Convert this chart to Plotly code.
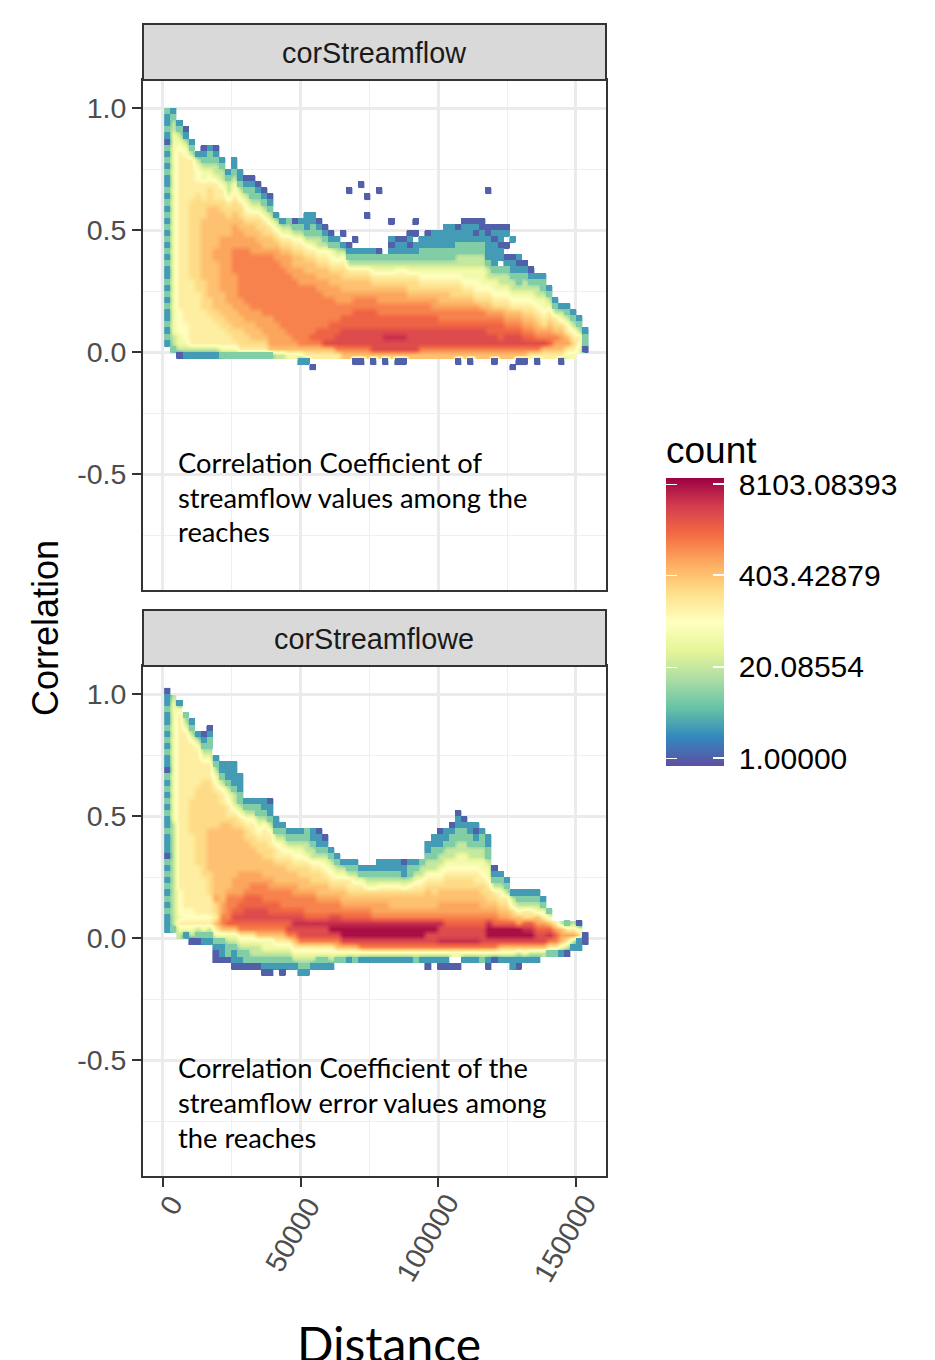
import numpy as np
import plotly.graph_objects as go

W, H = 935, 1360
# Each string is one distance bin, read bottom to top.
# A digit is ln(count), a letter is a half step (see HALF_STEPS), '.' is an empty cell.
HALF_STEPS = {"a": 4.5, "b": 5.5, "c": 6.5, "d": 7.5, "e": 8.5}
BIN_X = 2200
BIN_Y = 0.025
X_START = 500
Y_START_TOP = -0.075
Y_START_BOTTOM = -0.175

streamflow_columns = [
"....1 21211 21212 11212 12121 21212 11212 12012 112",
"...23 34444 44444 44444 44444 44444 44444 44443 321",
"..034 4aaaa 55555 55555 55555 55555 55555 5a432 1",
"..134 aaa55 55555 55555 55555 55555 55555 a4310",
"..135 55555 55555 bbbbb bbbbb bbb55 55555 321",
"..135 55555 555bb bbbbb bbbbb bbbb5 5aa43 1",
"..135 55555 bbbbb 66666 66666 bbb55 54432 10",
"..135 5555b bb666 66666 66666 66bbb 5a432 21",
"..135 555bb 66666 666cc 66666 66b55 54332 10",
"..245 55bb6 666cc ccccc cc666 6bb55 43321",
"..245 5bb66 6cccc ccccc cc666 bb543 321",
"..245 bb666 ccccc c7777 cccc6 6bb5a 43211",
"..25b bb66c cc777 77777 ccc66 bb543 211",
"..25b b66cc c7777 77777 cc66b 5a432 10",
"..25b 666cc 77777 7777c cc66b 54322 10",
"..25b 66ccc 77777 7777c c66bb 54321 0",
"..25b 6ccc7 77777 7777c 66bb5 43210",
"..26c cccc7 77777 7777c 66b54 3210",
"..36c ccc77 77777 777cc 6b543 1",
"..36c cc777 77777 77cc6 b5431",
"..46c c7777 77777 7ccc6 b5432",
"..46c 77777 77777 cc66b 5a320",
".1467 77777 7777c cc66b 5a321",
".1567 77777 7777c c66b5 a3211 1",
"0.567 d7777 7777c c66b5 43221 1",
"..567 dd777 777cc 66b5a 33210",
"..568 dd777 77ccc 66b5a 3210",
"..568 ddd77 77cc6 6b5a4 210",
"..578 8dd77 7ccc6 6b543 21",
"..678 88dd7 7cc66 bb5a3 1.0",
"..678 88dd7 7cc66 b5321 0",
".0678 88ddd 77c66 b5321 .0",
".0678 88ddd 77c66 b5321",
"..678 88ddd 77c66 b5321",
".0688 88ddd 77c6b 54321",
"..688 88dd7 7cc6b 54320",
".0688 e8dd7 7cc6b 5432.",
"..688 e8dd7 7cc6b 54321 01",
".0688 e8dd7 7cc6b 5a321 10",
".0688 e8dd7 7cc6b 5a321 10",
"..688 88dd7 7c6bb 54321 010",
"..688 88dd7 7c6bb 54321 1.0",
"..678 88dd7 7c6b5 a4322 11",
"..678 88dd7 7c6b5 a4322 110",
"..678 88dd7 cc6b5 a4322 111",
"..678 88d77 c66b5 a4322 111",
"..678 88d77 c66b5 a4322 1111",
"..678 88d77 c6bb5 a4322 1111",
".0678 88d77 c6bb5 a4332 2110",
"..678 88d77 c6b5a 44332 21110",
".0678 88d77 c6b5a 44332 21110",
"..678 88d77 cb5aa 44332 21010",
"..678 88d77 6b5a4 44332 21100",
"..678 8dd7c 6b5a4 33211 1100",
".0678 8dd7c b5a44 32111 1010",
"..678 ddd7c b5a43 32.11 0110",
"..678 8d7c6 b5a43 3210. 0.10",
"0.678 8d7c6 5a433 2110. .1",
".0678 8d7c6 5a432 2101",
".0678 d7c6b 5a433 210",
"..578 d7c6b 5a432 10",
".0578 7c6b5 a4332 1",
"..568 7cb5a 44322 1",
"..56d 7c6b5 4321",
"..56c 76b53 21",
".056c c6b43 1",
"..45c 65a32 1",
"..45b 5a321",
"...4a 5321",
"...02 21",
]

# Isolated single-count cells above the main cloud of the top panel: (distance bin, correlation bin)
streamflow_strays = [(30, 29), (32, 30), (33, 28), (33, 25), (35, 29), (37, 24),
                     (41, 24), (51, 24), (53, 29), (56, 23)]

streamflow_error_columns = [
"..... ...11 12121 21212 01112 11212 12120 11212 12112 110",
"..... ...23 33333 33333 33333 34444 44444 44444 44444 43",
"..... ..345 4aaaa 55555 55555 55555 55555 55555 55554 1",
"..... ..145 aa555 55555 55555 55555 55555 55555 5432",
"..... .0345 aa555 55555 5555b bbbbb 55555 5555a 321",
"..... .0235 a5555 5555b bbbbb bbbbb bb555 555a3 1",
"..... .1245 a5555 55bbb bbbbb bbbbb bbb55 54321 0",
"..... .1235 a555b bbb66 66666 bbbbb bbb55 54322 10",
"...00 12456 5bbc6 66666 66666 bbbbb b5a43 21",
"...01 12467 7cc66 66666 66666 6bbb5 5a321 1",
"...02 2346d 7777c 66666 66666 6b55a 43211 1",
"..011 2346d 8d77c cc666 66666 bb543 32111 1",
"..012 3457d 8dd7c ccc66 66666 b5432 2111",
"..022 3457d 88dd7 ccc66 666bb 5a321",
"..023 3457d 88dd7 7cc66 66bb5 5a321",
"..023 3467d 88dd7 7cc66 6bb5a 43221",
".0123 4467d 88d77 7c666 bbb55 a3211",
".0123 4467d 8dd77 cc666 bb55a 32110",
"..123 4567d 8dd77 c666b 55a32 11",
".0123 4567d 8d777 c666b 5a432 1",
"..123 4578d 8d777 c66bb 5a321",
"..134 5678e 8d77c c66b5 a4321",
".1234 5788e 8d77c 66bb5 a4321",
".1234 5788e d777c 66bb5 43322",
"..134 5788e d777c 6bb5a 33211",
"..124 5788e d77c6 6bb5a 32110",
"..124 5788e d77c6 6b5a4 3210",
"..134 5789e 877c6 b5a43 21",
"...24 6789e 877c6 b5432 1",
"...24 6899e d7c66 b5431",
"...14 6899e d7c6b 55321",
"...24 6899e d7c6b 54321",
"...14 7899e d7c6b 5421",
"...14 7899e d7c6b 4321",
"...14 7899e 7cc6b 4321",
"...14 7899e 7cc6b a3211",
"...14 7899e 7cc6b a3211",
"...14 7899e 7c66b a3211",
"...14 7899e 7c66b a3211",
"...14 7899e 7c66b 43110",
"...14 7899e 7c66b a3221",
"...24 7899e 7c66b 54321",
"...14 7899e 7c66b 5a332",
"..014 7889e 7c666 b5a33 211",
"...14 7889e 7c66b b5a33 2211",
"..014 7e88e 7cc66 b5a43 32110",
"..014 7e88d 7cc66 bb5a4 33211",
"..0.4 7e88d 7cc66 bb5a4 33221 0",
"..0.4 7e88d 7cc66 bb5a4 43322 110",
"...14 7e88d 7cc66 bb5a4 43322 10",
"...14 7e88d 7cc66 bb5a4 33221 1",
"...14 7e88d 7cc66 b55a4 33210 1",
"...24 7888d 7c66b b5a44 33221",
"..014 7899e 7c6bb 5a443 2211",
"...04 7899d 7c6b5 3210",
"...14 6899d c6b5a 321",
"...14 6899d c6b53 21",
"..114 6899d 6b431",
"..013 6899c 6a321",
"...14 689ed b5321",
"...13 689ed b5321",
"...13 688dc 64321",
"....3 688dc 5421",
"....2 57ed6 42",
"....2 57dc5",
"....1 46c63",
"....0 35c52",
"..... 13c53",
"..... 11b40",
"..... .00",
]

facet_labels = ["corStreamflow", "corStreamflowe"]
notes_top = ["Correlation Coefficient of", "streamflow values among the", "reaches"]
notes_bottom = ["Correlation Coefficient of the", "streamflow error values among", "the reaches"]
x_ticks = [0, 50000, 100000, 150000]
x_minor = [25000, 75000, 125000]
y_ticks = [-0.5, 0.0, 0.5, 1.0]
y_tick_labels = ["-0.5", "0.0", "0.5", "1.0"]
y_minor = [-0.75, -0.25, 0.25, 0.75]
legend_ln = [0, 3, 6, 9]
legend_labels = ["1.00000", "20.08554", "403.42879", "8103.08393"]
spectral = ["#5E4FA2", "#3288BD", "#66C2A5", "#ABDDA4", "#E6F598", "#FFFFBF",
            "#FEE08B", "#FDAE61", "#F46D43", "#D53E4F", "#9E0142"]


def to_grid(columns, strays=()):
    cols = [c.replace(" ", "") for c in columns]
    rows = max([len(c) for c in cols] + [r + 1 for _, r in strays])
    z = np.full((rows, len(cols)), np.nan)
    for j, c in enumerate(cols):
        for i, ch in enumerate(c):
            if ch != ".":
                z[i, j] = HALF_STEPS.get(ch, float(ch) if ch.isdigit() else np.nan)
    for j, r in strays:
        z[r, j] = 0.0
    return z


def add_panel(fig, columns, y_start, axis, strays=()):
    z = to_grid(columns, strays)
    xs = X_START + BIN_X * (np.arange(z.shape[1]) + 0.5)
    ys = y_start + BIN_Y * (np.arange(z.shape[0]) + 0.5)
    common = dict(x=xs, y=ys, coloraxis="coloraxis", xaxis="x" + axis, yaxis="y" + axis, hoverongaps=False)
    fig.add_trace(go.Heatmap(z=z, zsmooth="best", **common))
    fig.add_trace(go.Heatmap(z=np.where(z <= 2, z, np.nan), **common))


def px(x):
    return x / W


def py(y):
    return 1 - y / H


fig = go.Figure()
add_panel(fig, streamflow_columns, Y_START_TOP, "", streamflow_strays)
add_panel(fig, streamflow_error_columns, Y_START_BOTTOM, "2")

TICK = dict(family="Liberation Sans", size=28.5, color="#4D4D4D")
x_common = dict(range=[-7260, 160900], domain=[px(143), px(606)],
                tickvals=x_ticks, showgrid=True, gridcolor="#EBEBEB", gridwidth=2.5,
                minor=dict(tickvals=x_minor, showgrid=True, gridcolor="#EFEFEF", gridwidth=1.2, ticks=""),
                zeroline=False, showline=True, mirror=True, linecolor="#333333", linewidth=2,
                ticks="outside", ticklen=9, tickwidth=2, tickcolor="#333333", tickfont=TICK,
                showticklabels=False)
y_common = dict(range=[-0.975, 1.115], tickvals=y_ticks, ticktext=y_tick_labels,
                showgrid=True, gridcolor="#EBEBEB", gridwidth=2.5,
                minor=dict(tickvals=y_minor, showgrid=True, gridcolor="#EFEFEF", gridwidth=1.2, ticks=""),
                zeroline=False, showline=True, mirror=True, linecolor="#333333", linewidth=2,
                ticks="outside", ticklen=9, tickwidth=2, tickcolor="#333333", tickfont=TICK)

shapes = []
annotations = []
for (top, bottom, label) in [(24, 80, facet_labels[0]), (610, 666, facet_labels[1])]:
    shapes.append(dict(type="rect", xref="paper", yref="paper", x0=px(143), x1=px(606),
                       y0=py(bottom), y1=py(top), fillcolor="#D9D9D9",
                       line=dict(color="#333333", width=2)))
    annotations.append(dict(xref="paper", yref="paper", x=px(374), y=py((top + bottom) / 2 + 1),
                            text=label, showarrow=False, xanchor="center", yanchor="middle",
                            font=dict(family="Liberation Sans", size=28.8, color="#1A1A1A")))

NOTE = dict(family="Lato", size=27.3, color="#000000")
for lines, y0 in [(notes_top, 462), (notes_bottom, 1067)]:
    for i, t in enumerate(lines):
        annotations.append(dict(xref="paper", yref="paper", x=px(176), y=py(y0 + 35 * i), text=t,
                                showarrow=False, xanchor="left", yanchor="middle", font=NOTE))

for tick, xshift, yc in zip(x_ticks, [8, -8.5, -11, -11], [1205, 1235, 1238, 1238]):
    annotations.append(dict(xref="x2", yref="paper", x=tick, y=py(yc), xshift=xshift, text=str(tick),
                            textangle=-60, showarrow=False, xanchor="center", yanchor="middle", font=TICK))

annotations.append(dict(xref="paper", yref="paper", x=px(389), y=py(1343), text="Distance", showarrow=False,
                        xanchor="center", yanchor="middle",
                        font=dict(family="Lato", size=48, color="#000000")))
annotations.append(dict(xref="paper", yref="paper", x=px(45), y=py(628), text="Correlation", showarrow=False,
                        textangle=-90, xanchor="center", yanchor="middle",
                        font=dict(family="Liberation Sans", size=36, color="#000000")))
annotations.append(dict(xref="paper", yref="paper", x=px(664), y=py(451), text="count", showarrow=False,
                        xanchor="left", yanchor="middle",
                        font=dict(family="Liberation Sans", size=37, color="#000000")))
for v in [484, 575.5, 667, 758]:
    annotations.append(dict(xref="paper", yref="paper", x=px(666), y=py(v), text=" ", showarrow=False,
                            xanchor="left", yanchor="middle", width=11, height=1, bgcolor="white", borderpad=0,
                            borderwidth=0, font=dict(size=1)))

fig.update_layout(
    width=W, height=H, margin=dict(l=0, r=0, t=0, b=0),
    paper_bgcolor="white", plot_bgcolor="white", showlegend=False,
    xaxis=dict(x_common, anchor="y", ticks=""),
    xaxis2=dict(x_common, anchor="y2"),
    yaxis=dict(y_common, anchor="x", domain=[py(590), py(80)]),
    yaxis2=dict(y_common, anchor="x2", domain=[py(1176), py(666)]),
    coloraxis=dict(
        cmin=-0.26, cmax=9.2,
        colorscale=[[i / 10, c] for i, c in enumerate(spectral)],
        colorbar=dict(
            x=px(666), xanchor="left", xref="paper", xpad=0,
            y=py(766), yanchor="bottom", yref="paper", ypad=0,
            len=288 / H, lenmode="fraction", thickness=58, thicknessmode="pixels",
            outlinewidth=0, borderwidth=0,
            tickvals=legend_ln, ticktext=["\u00a0" + t for t in legend_labels], ticks="inside", ticklen=11,
            tickwidth=1.5, tickcolor="white",
            tickfont=dict(family="Liberation Sans", size=30, color="#000000"),
        ),
    ),
    shapes=shapes, annotations=annotations,
)

fig.write_html("out.html", config=dict(displayModeBar=False),
               post_script="document.body.style.margin='0';document.body.style.overflow='hidden';")
